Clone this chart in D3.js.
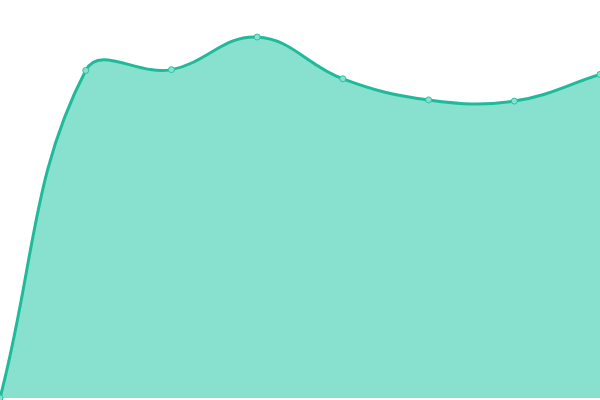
<!DOCTYPE html>
<html>
<head>
<meta charset="utf-8">
<script src="https://cdn.jsdelivr.net/npm/d3@7"></script>
<style>
  body { margin: 0; background: #fff; }
  svg { display: block; }
</style>
</head>
<body>
<div class="chart"></div>
<script>
const width = 600;
const height = 400;

// data
const categories = ["A", "B", "C", "D", "E", "F", "G", "H"];
const values = [0, 82.3, 82.5, 90.7, 80.2, 74.9, 74.6, 81.3];

const svg = d3.select(".chart").append("svg")
  .attr("width", width)
  .attr("height", height);

const x = d3.scalePoint()
  .domain(categories)
  .range([0, width]);

const y = d3.scaleLinear()
  .domain([0, 100])
  .range([398, 0]);

const data = categories.map((c, i) => ({ cat: c, val: values[i] }));

// spline with distance-weighted control points (tension 0.4)
function SplineCurve(context, tension) {
  this._context = context;
  this._t = tension;
}
SplineCurve.prototype = {
  areaStart: function() { this._line = 0; },
  areaEnd: function() { this._line = NaN; },
  lineStart: function() { this._x = []; this._y = []; },
  point: function(px, py) { this._x.push(+px); this._y.push(+py); },
  lineEnd: function() {
    const xs = this._x, ys = this._y, n = xs.length, t = this._t;
    if (n) {
      this._line ? this._context.lineTo(xs[0], ys[0]) : this._context.moveTo(xs[0], ys[0]);
      // control points for each point
      const cp = [];
      for (let i = 0; i < n; i++) {
        const p = Math.max(0, i - 1), q = Math.min(n - 1, i + 1);
        const d01 = Math.hypot(xs[i] - xs[p], ys[i] - ys[p]);
        const d12 = Math.hypot(xs[q] - xs[i], ys[q] - ys[i]);
        let s01 = d01 / (d01 + d12), s12 = d12 / (d01 + d12);
        if (isNaN(s01)) s01 = 0;
        if (isNaN(s12)) s12 = 0;
        const fa = t * s01, fb = t * s12;
        const dx = xs[q] - xs[p], dy = ys[q] - ys[p];
        cp.push({
          px: xs[i] - fa * dx, py: ys[i] - fa * dy,
          nx: xs[i] + fb * dx, ny: ys[i] + fb * dy
        });
      }
      for (let i = 1; i < n; i++) {
        this._context.bezierCurveTo(cp[i - 1].nx, cp[i - 1].ny, cp[i].px, cp[i].py, xs[i], ys[i]);
      }
    }
    if (this._line || (this._line !== 0 && n === 1)) this._context.closePath();
    this._line = 1 - this._line;
    this._x = this._y = null;
  }
};
const curve = context => new SplineCurve(context, 0.4);

const area = d3.area()
  .x(d => x(d.cat))
  .y0(y(0))
  .y1(d => y(d.val))
  .curve(curve);

const line = d3.line()
  .x(d => x(d.cat))
  .y(d => y(d.val))
  .curve(curve);

svg.append("path")
  .datum(data)
  .attr("d", area)
  .attr("fill", "#88e0ce");

svg.append("path")
  .datum(data)
  .attr("d", line)
  .attr("fill", "none")
  .attr("stroke", "#1fba9a")
  .attr("stroke-width", 3);

svg.selectAll("circle")
  .data(data)
  .enter().append("circle")
  .attr("cx", d => x(d.cat))
  .attr("cy", d => y(d.val))
  .attr("r", 3)
  .attr("fill", "#8ae0cf")
  .attr("stroke", "#2ec1a3")
  .attr("stroke-width", 1);
</script>
</body>
</html>
